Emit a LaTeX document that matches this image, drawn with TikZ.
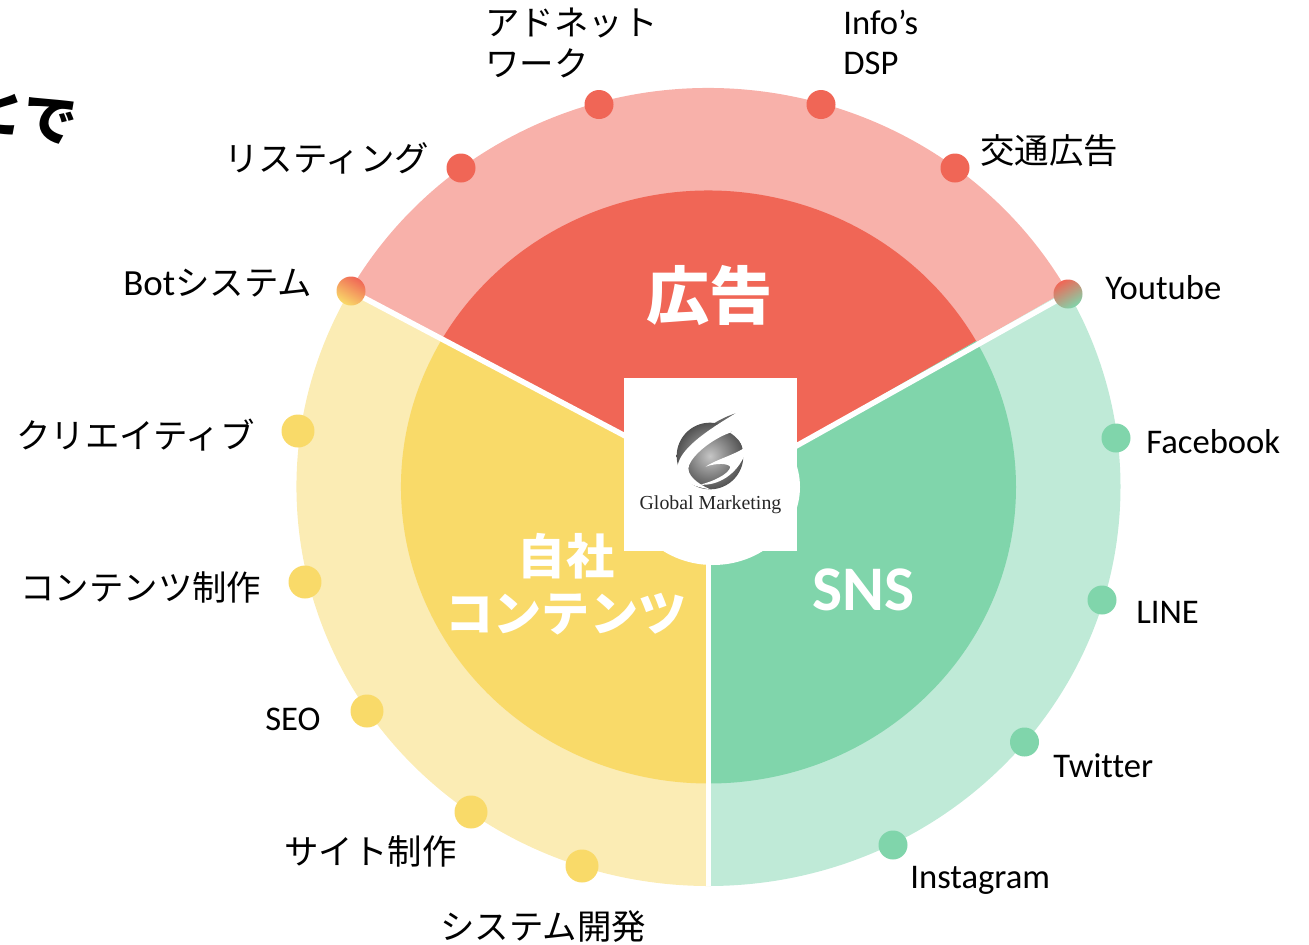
\documentclass[tikz,border=0pt]{standalone}
\usepackage{fontspec}
\setmainfont{Carlito}[Ligatures=CommonOff]
\newfontfamily\jpfont{Noto Sans CJK JP}
\newfontfamily\logofont{Liberation Serif}
\definecolor{adLight}{HTML}{F8B1AA}
\definecolor{adDark}{HTML}{F06656}
\definecolor{ownLight}{HTML}{FBECB4}
\definecolor{ownDark}{HTML}{F9DA69}
\definecolor{snsLight}{HTML}{BFEAD7}
\definecolor{snsDark}{HTML}{80D5AB}
\tikzset{
    px/.style={x=0.02cm,y=-0.02cm},
    itemlabel/.style={anchor=west,inner sep=0pt,font=\fontsize{19.7}{23.2}\selectfont,align=left},
    jplabel/.style={anchor=west,inner sep=0pt,font=\jpfont\fontsize{19.6}{23.2}\selectfont,align=left},
    titlelabel/.style={text=white,inner sep=0pt,align=center},
    dotnode/.style={circle,minimum size=0.58cm,inner sep=0pt},
    owndot/.style={circle,minimum size=0.66cm,inner sep=0pt,fill=ownDark},
}
\begin{document}
\begin{tikzpicture}[px]
    \useasboundingbox (0,0) rectangle (1309,944);
    \coordinate (hub) at (708.5,487);
    \coordinate (hubL) at (708.5,480);
    \coordinate (hubR) at (708.5,495);
    \coordinate (junctionL) at (351,291);
    \coordinate (junctionR) at (1068,294);
    \coordinate (bottomEdge) at (708.5,886);
    % sectors
    \foreach \st/\dl/\apA/\apB/\lc/\dc in {-29.5/-121/hubR/hubL/adLight/adDark,90/-119.5/hub/hubR/snsLight/snsDark,209.5/-119.5/hubL/hub/ownLight/ownDark}{
        \fill[\lc] (\apA) -- ([shift={(\st:412 and 399)}]hub) arc[start angle=\st,delta angle=\dl,x radius=412,y radius=399] -- (\apB) -- cycle;
        \fill[\dc] (\apA) -- ([shift={(\st:307.5 and 296.5)}]hub) arc[start angle=\st,delta angle=\dl,x radius=307.5,y radius=296.5] -- (\apB) -- cycle;
    }
    \draw[white,line width=0.11cm] (hubL) -- (junctionL);
    \draw[white,line width=0.11cm] (hubR) -- (junctionR);
    \draw[white,line width=0.11cm] (hub) -- (bottomEdge);
    % logo plate
    \fill[white] (713,487) ellipse[x radius=87,y radius=78];
    \node[fill=white,minimum size=3.46cm,inner sep=0pt] (plate) at (710.5,464.5) {};
    % logo mark
    \begin{scope}[shift={(665,406)},x=0.00667cm,y=-0.00667cm]
        \fill[gray!80!black] (212,22) .. controls (180,32) and (150,48) .. (120,70) -- (150,75) .. controls (170,55) and (190,38) .. (212,22) -- cycle;
        \shade[inner color=gray!45,outer color=black!68] (135,150) circle (100);
        \fill[white] (212,22) .. controls (140,65) and (45,125) .. (38,180) .. controls (34,215) and (70,240) .. (135,250) .. controls (95,232) and (62,205) .. (72,178) .. controls (85,145) and (140,100) .. (195,80) -- (240,45) -- cycle;
        \fill[white] (240,125) .. controls (200,150) and (150,162) .. (122,182) .. controls (155,170) and (190,172) .. (196,183) .. controls (192,205) and (140,228) .. (105,236) .. controls (160,240) and (215,205) .. (240,145) -- cycle;
        \fill[white] (195,80) -- (240,45) -- (250,130) -- (236,130) .. controls (230,110) and (215,92) .. (195,80) -- cycle;
    \end{scope}
    \node[inner sep=0pt,text=black!85,font=\logofont\fontsize{11.3}{13}\selectfont] (logotext) at (710.5,505) {Global Marketing};
    % dots
    \foreach \name/\x/\y in {dotListing/461/168,dotAdnet/599/104.5,dotInfo/821/104.5,dotTransit/955/168}{
        \node[dotnode,fill=adDark] (\name) at (\x,\y) {};
    }
    \foreach \name/\x/\y in {dotFacebook/1116/438,dotLine/1102/600,dotTwitter/1024.5/742,dotInstagram/893/845}{
        \node[dotnode,fill=snsDark] (\name) at (\x,\y) {};
    }
    \foreach \name/\x/\y in {dotCreative/298/431,dotContents/305/582,dotSeo/367/711,dotSite/471/812,dotSystem/582/866}{
        \node[owndot] (\name) at (\x,\y) {};
    }
    \node[dotnode,top color=adDark,bottom color=ownDark,shading angle=-30] (dotBot) at (junctionL) {};
    \node[dotnode,top color=adDark,bottom color=snsDark,shading angle=30] (dotYoutube) at (junctionR) {};
    % section titles
    \node[titlelabel,font=\jpfont\bfseries\fontsize{36}{40}\selectfont] (adTitle) at (709.5,295) {広告};
    \node[titlelabel,font=\jpfont\bfseries\fontsize{27.4}{32.5}\selectfont] (ownTitle) at (566,584) {自社\\コンテンツ};
    \node[titlelabel,font=\bfseries\fontsize{36.2}{40}\selectfont] (snsTitle) at (863.5,590) {SNS};
    % item labels
    \node[jplabel] (lblAdnet) at (485,43) {アドネット\\ワーク};
    \node[itemlabel] (lblInfo) at (843,42.5) {Info’s\\DSP};
    \node[jplabel] (lblTransit) at (980,151) {交通広告};
    \node[itemlabel] (lblYoutube) at (1105,288) {Youtube};
    \node[itemlabel] (lblFacebook) at (1146,442) {Facebook};
    \node[itemlabel] (lblLine) at (1136,612) {LINE};
    \node[itemlabel] (lblTwitter) at (1053,766) {Twitter};
    \node[itemlabel] (lblInstagram) at (910,880) {Instagram};
    \node[jplabel] (lblSystem) at (440,927) {システム開発};
    \node[jplabel] (lblSite) at (284,851) {サイト制作};
    \node[itemlabel] (lblSeo) at (265,719) {SEO};
    \node[jplabel] (lblContents) at (20,587) {コンテンツ制作};
    \node[jplabel] (lblCreative) at (16,435) {クリエイティブ};
    \node[itemlabel] (lblBot) at (123,283) {\fontsize{21}{23}\selectfont Bot{\jpfont\fontsize{19.6}{23}\selectfont システム}};
    \node[jplabel] (lblListing) at (224,158) {リスティング};
    % cut-off heading
    \node[inner sep=0pt,anchor=east,rotate=-10,font=\jpfont\bfseries\fontsize{31}{34}\selectfont] (heading) at (77,124) {とで};
\end{tikzpicture}
\end{document}
